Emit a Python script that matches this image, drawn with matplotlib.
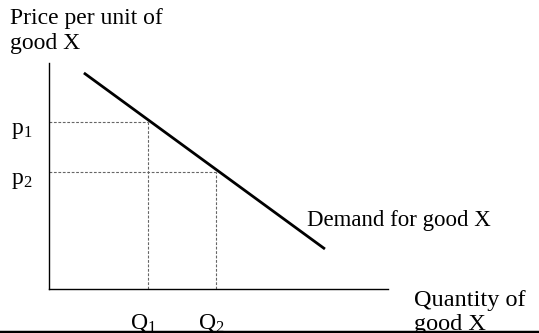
import matplotlib
matplotlib.use("Agg")
import matplotlib.pyplot as plt
from matplotlib.lines import Line2D

plt.rcParams["mathtext.fontset"] = "custom"
plt.rcParams["mathtext.rm"] = "Liberation Serif"
plt.rcParams["mathtext.it"] = "Liberation Serif"
plt.rcParams["mathtext.bf"] = "Liberation Serif"

# Data (abstract units, axes 0..10)
demand_x = [1.03, 8.14]
demand_y = [9.56, 1.77]
q_values = [2.92, 4.93]
p_values = [7.39, 5.18]
q_labels = [r"Q$_\mathrm{1}$", r"Q$_\mathrm{2}$"]
p_labels = [r"p$_\mathrm{1}$", r"p$_\mathrm{2}$"]

W, H = 539, 333
fig = plt.figure(figsize=(W / 100, H / 100), dpi=100)
ax = fig.add_axes([49 / W, (H - 289) / H, 339 / W, 226 / H])
ax.set_xlim(0, 10)
ax.set_ylim(0, 10)
for s in ["top", "right"]:
    ax.spines[s].set_visible(False)
for s in ["left", "bottom"]:
    ax.spines[s].set_linewidth(1.0)
    ax.spines[s].set_color("black")
ax.set_xticks([])
ax.set_yticks([])

ax.plot(demand_x, demand_y, color="black", lw=2.0, solid_capstyle="butt")

dash = dict(color="#666666", lw=0.8, linestyle=(0, (2.5, 1.5)))
for q, p in zip(q_values, p_values):
    ax.plot([0, q], [p, p], **dash)
    ax.plot([q, q], [0, p], **dash)

serif = ["Liberation Serif", "DejaVu Serif"]
fs = 17

def px(x, y):
    return x / W, 1 - y / H

for q, lab in zip(q_values, q_labels):
    ax.annotate(lab, xy=(q, 0), xytext=(-5, -39), textcoords="offset pixels",
                ha="center", va="baseline", fontsize=fs, family=serif, annotation_clip=False)
for p, lab in zip(p_values, p_labels):
    ax.annotate(lab, xy=(0, p), xytext=(-38, -12), textcoords="offset pixels",
                ha="left", va="baseline", fontsize=fs, family=serif, annotation_clip=False)

fig.text(*px(10, 24), "Price per unit of", ha="left", va="baseline", fontsize=fs, family=serif)
fig.text(*px(10, 49), "good X", ha="left", va="baseline", fontsize=fs, family=serif)
fig.text(*px(414, 306), "Quantity of", ha="left", va="baseline", fontsize=17.5, family=serif)
fig.text(*px(414, 330), "good X", ha="left", va="baseline", fontsize=17.5, family=serif)
fig.text(*px(307, 226), "Demand for good X", ha="left", va="baseline", fontsize=16.5, family=serif)

fig.add_artist(Line2D([0, 1], [1.5 / H, 1.5 / H], transform=fig.transFigure,
                      color="black", lw=2.5, zorder=10))

fig.savefig("out.png", dpi=100)
